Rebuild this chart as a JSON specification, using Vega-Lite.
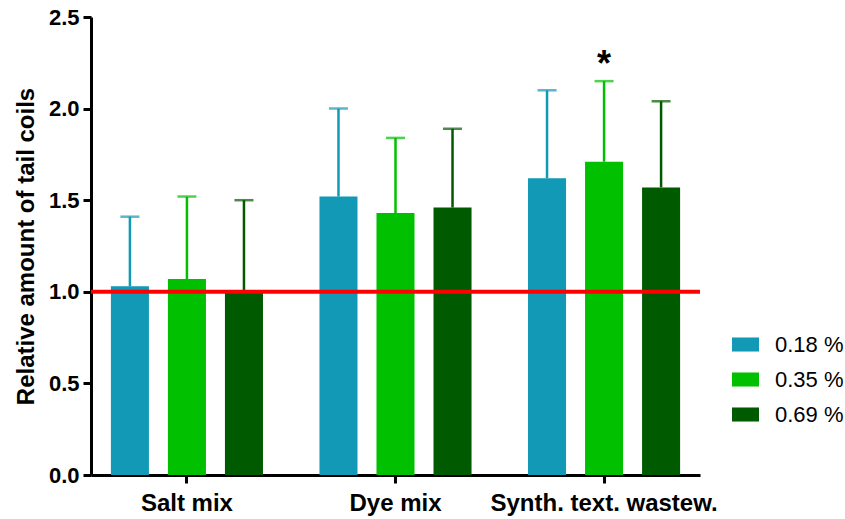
{
  "$schema": "https://vega.github.io/schema/vega-lite/v6.json",
  "width": 609,
  "height": 458,
  "autosize": {"type": "none"},
  "padding": {"left": 91, "top": 17, "right": 145, "bottom": 44},
  "background": "white",
  "config": {
    "view": {"stroke": null},
    "font": "Liberation Sans"
  },
  "data": {
    "values": [
      {"group": "Salt mix", "conc": "0.18 %", "mean": 1.03, "upper": 1.41, "sig": ""},
      {"group": "Salt mix", "conc": "0.35 %", "mean": 1.07, "upper": 1.52, "sig": ""},
      {"group": "Salt mix", "conc": "0.69 %", "mean": 1.01, "upper": 1.50, "sig": ""},
      {"group": "Dye mix", "conc": "0.18 %", "mean": 1.52, "upper": 2.00, "sig": ""},
      {"group": "Dye mix", "conc": "0.35 %", "mean": 1.43, "upper": 1.84, "sig": ""},
      {"group": "Dye mix", "conc": "0.69 %", "mean": 1.46, "upper": 1.89, "sig": ""},
      {"group": "Synth. text. wastew.", "conc": "0.18 %", "mean": 1.62, "upper": 2.10, "sig": ""},
      {"group": "Synth. text. wastew.", "conc": "0.35 %", "mean": 1.71, "upper": 2.15, "sig": "*"},
      {"group": "Synth. text. wastew.", "conc": "0.69 %", "mean": 1.57, "upper": 2.04, "sig": ""}
    ]
  },
  "encoding": {
    "x": {
      "field": "group",
      "type": "nominal",
      "sort": ["Salt mix", "Dye mix", "Synth. text. wastew."],
      "scale": {"paddingInner": 0.08, "paddingOuter": 0},
      "axis": {
        "title": null,
        "labelAngle": 0,
        "labelLimit": 0,
        "labelFontSize": 24,
        "labelFontWeight": "bold",
        "labelColor": "black",
        "labelPadding": 8,
        "domainColor": "black",
        "domainWidth": 3,
        "tickColor": "black",
        "tickWidth": 3,
        "tickSize": 8
      }
    },
    "xOffset": {
      "field": "conc",
      "type": "nominal",
      "sort": ["0.18 %", "0.35 %", "0.69 %"],
      "scale": {"paddingInner": 0.333, "paddingOuter": 0.349}
    },
    "color": {
      "field": "conc",
      "type": "nominal",
      "sort": ["0.18 %", "0.35 %", "0.69 %"],
      "scale": {
        "domain": ["0.18 %", "0.35 %", "0.69 %"],
        "range": ["#1199B5", "#00C000", "#005A00"]
      },
      "legend": {
        "title": null,
        "orient": "none",
        "legendX": 641,
        "legendY": 314,
        "padding": 0,
        "symbolType": "M-1,-0.52H1V0.52H-1Z",
        "symbolSize": 729,
        "symbolStrokeWidth": 0,
        "symbolOpacity": 1,
        "labelFontSize": 22,
        "labelColor": "black",
        "labelOffset": 16,
        "rowPadding": 10
      }
    }
  },
  "layer": [
    {
      "mark": {"type": "bar", "opacity": 1},
      "encoding": {
        "y": {
          "field": "mean",
          "type": "quantitative",
          "scale": {"domain": [0, 2.5], "nice": false},
          "axis": {
            "title": "Relative amount of tail coils",
            "titleFontSize": 24,
            "titleFontWeight": "bold",
            "titleColor": "black",
            "titlePadding": 10,
            "values": [0, 0.5, 1, 1.5, 2, 2.5],
            "format": ".1f",
            "grid": false,
            "labelFontSize": 22,
            "labelFontWeight": "bold",
            "labelColor": "black",
            "labelPadding": 4,
            "domainColor": "black",
            "domainWidth": 3,
            "tickColor": "black",
            "tickWidth": 3,
            "tickSize": 8
          }
        }
      }
    },
    {
      "mark": {"type": "rule", "strokeWidth": 2.5},
      "encoding": {
        "y": {"field": "mean", "type": "quantitative"},
        "y2": {"field": "upper"}
      }
    },
    {
      "mark": {"type": "tick", "size": 19, "thickness": 2.5, "orient": "horizontal"},
      "encoding": {
        "y": {"field": "upper", "type": "quantitative"}
      }
    },
    {
      "data": {"values": [{"ref": 1}]},
      "mark": {"type": "rule", "color": "#FF0000", "strokeWidth": 4},
      "encoding": {
        "y": {"field": "ref", "type": "quantitative"},
        "x": null,
        "xOffset": null,
        "color": null
      }
    },
    {
      "mark": {"type": "text", "fontSize": 36, "fontWeight": "bold", "color": "black", "baseline": "alphabetic", "dy": -5},
      "encoding": {
        "y": {"field": "upper", "type": "quantitative"},
        "text": {"field": "sig"},
        "color": null
      }
    }
  ]
}
